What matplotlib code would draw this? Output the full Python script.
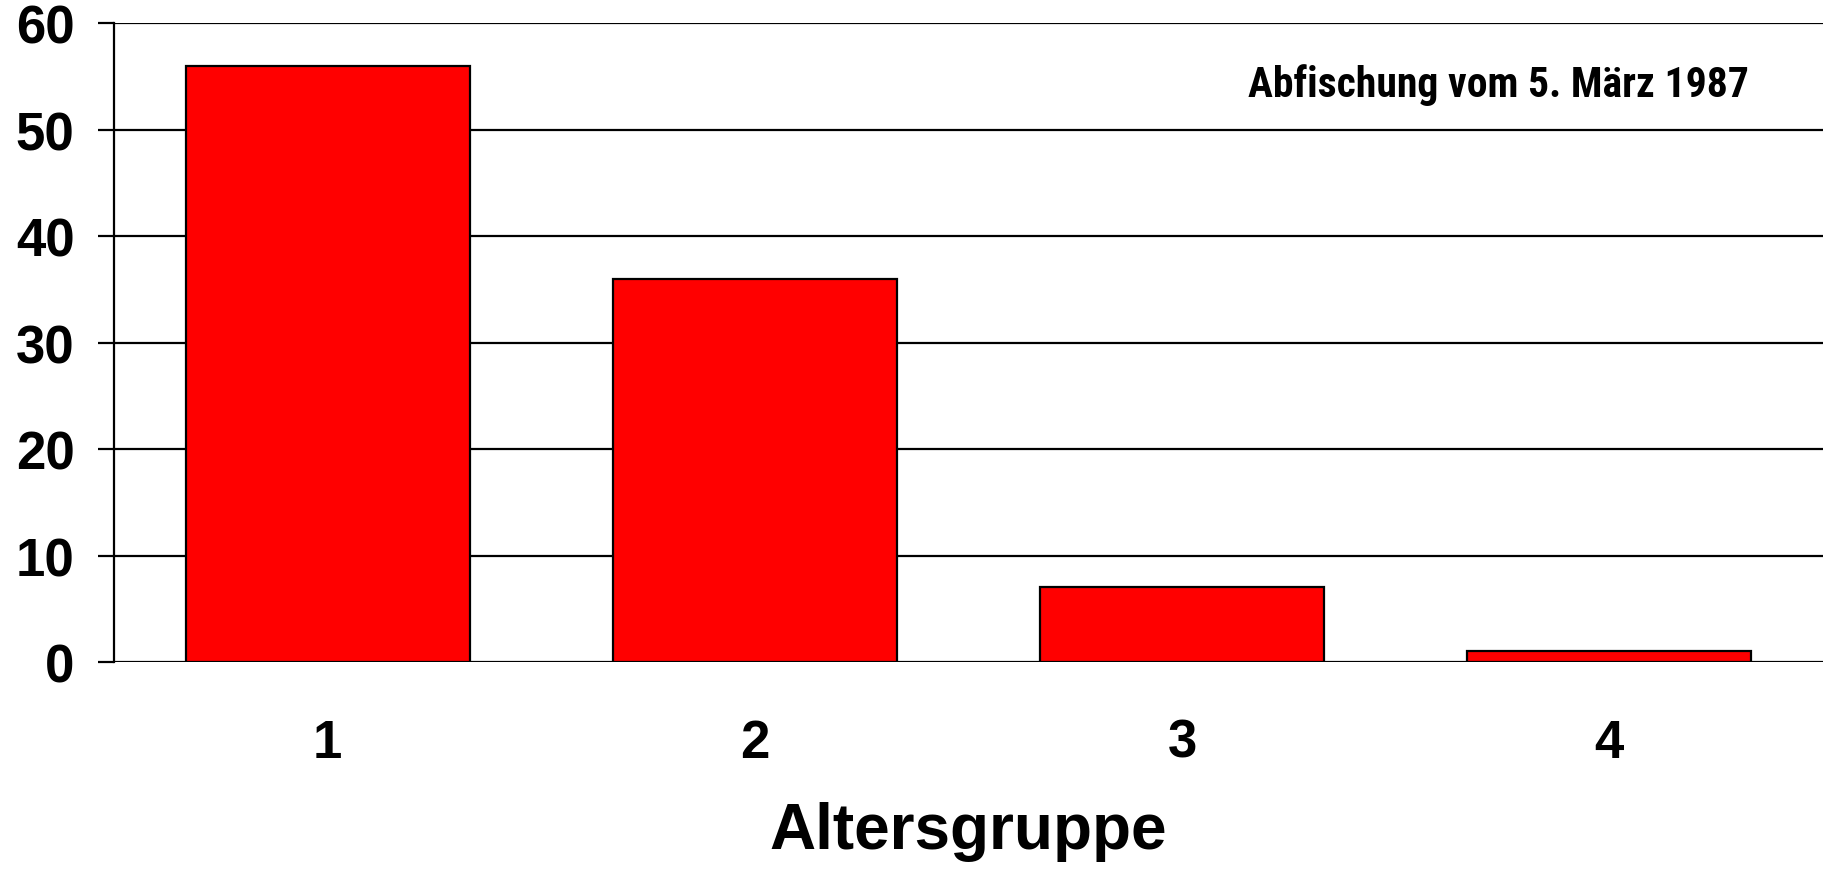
import matplotlib
matplotlib.use("Agg")
import matplotlib.pyplot as plt
from matplotlib import font_manager

# Age groups and catch counts
groups = [1, 2, 3, 4]
counts = [56, 36, 7, 1]
y_ticks = [0, 10, 20, 30, 40, 50, 60]
x_label = "Altersgruppe"
note = "Abfischung vom 5. März 1987"

plt.rcParams["font.family"] = ["Liberation Sans", "DejaVu Sans"]

available = {f.name for f in font_manager.fontManager.ttflist}
note_font = next((n for n in ["Liberation Sans Narrow", "Roboto Condensed",
                              "Archivo Narrow", "Barlow Condensed"]
                  if n in available), "Liberation Sans")

fig = plt.figure(figsize=(18.31, 8.70), dpi=100)
ax = fig.add_axes([0.0623, 0.2379, 0.9333, 0.7345])

ax.bar(groups, counts, width=0.665, color="#ff0000", edgecolor="black",
       linewidth=1.6, zorder=3)

ax.set_xlim(0.5, 4.5)
ax.set_ylim(0, 60)
ax.set_yticks(y_ticks)
ax.set_xticks(groups)
ax.set_xticklabels([str(g) for g in groups])

ax.yaxis.grid(True, color="black", linewidth=1.6, zorder=1)
ax.set_axisbelow(True)
for side in ("top", "right", "bottom"):
    ax.spines[side].set_visible(False)
ax.spines["left"].set_linewidth(1.6)

ax.tick_params(axis="y", length=11.5, width=1.6, pad=17, labelsize=38)
ax.tick_params(axis="x", length=0, pad=40, labelsize=38)
for lbl in ax.get_xticklabels() + ax.get_yticklabels():
    lbl.set_fontweight("bold")

ax.set_xlabel(x_label, fontsize=46, fontweight="bold", labelpad=24)

ax.text(0.81, 0.905, note, transform=ax.transAxes, ha="center", va="center",
        fontsize=30, fontweight="semibold", family=[note_font, "DejaVu Sans"])

fig.savefig("out.png", dpi=100)
